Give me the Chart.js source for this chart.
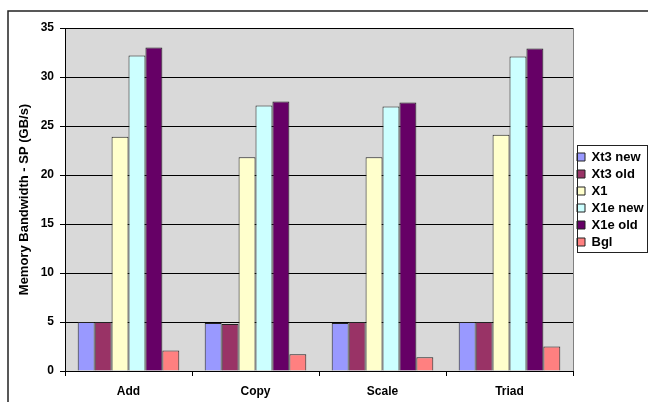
<!DOCTYPE html>
<html>
<head>
<meta charset="utf-8">
<script src="https://cdn.jsdelivr.net/npm/chart.js@4.4.0/dist/chart.umd.min.js"></script>
<style>
  html, body { margin: 0; padding: 0; background: #fff; }
  #wrap { width: 648px; height: 402px; position: relative; }
</style>
</head>
<body>
<div id="wrap"><canvas id="bwChart"></canvas></div>
<script>
// kernels on the x axis
const categories = ['Add', 'Copy', 'Scale', 'Triad'];

// SP memory bandwidth (GB/s), one array per machine
const xt3New = [5.0, 4.9, 4.9, 5.0];
const xt3Old = [5.0, 4.8, 5.0, 5.0];
const x1 = [23.9, 21.8, 21.8, 24.1];
const x1eNew = [32.2, 27.1, 27.0, 32.1];
const x1eOld = [33.0, 27.5, 27.4, 32.9];
const bgl = [2.1, 1.7, 1.4, 2.5];

const yTicks = [0, 5, 10, 15, 20, 25, 30, 35];

const FONT = 'Arial, "Liberation Sans", sans-serif';

// grey plot area + outer frame + box round the legend
const decor = {
  id: 'decor',
  beforeDraw(chart) {
    const { ctx, chartArea: a } = chart;
    ctx.save();
    ctx.fillStyle = '#d9d9d9';
    ctx.fillRect(a.left, a.top, a.right - a.left, a.bottom - a.top);
    ctx.strokeStyle = '#808080';
    ctx.lineWidth = 1;
    ctx.strokeRect(a.left + 0.5, a.top + 0.5, a.right - a.left, a.bottom - a.top);
    // outer frame
    ctx.strokeStyle = '#222';
    ctx.lineWidth = 1.5;
    ctx.beginPath();
    ctx.moveTo(648, 11);
    ctx.lineTo(8, 11);
    ctx.lineTo(8, 402);
    ctx.stroke();
    ctx.restore();
  },
  afterDraw(chart) {
    const boxes = chart.legend && chart.legend.legendHitBoxes;
    if (!boxes || !boxes.length) return;
    const { ctx } = chart;
    const first = boxes[0], last = boxes[boxes.length - 1];
    ctx.save();
    ctx.strokeStyle = '#222';
    ctx.lineWidth = 1;
    ctx.strokeRect(577.5, Math.round(first.top) - 5.5, 70, Math.round(last.top + last.height - first.top) + 9);
    ctx.restore();
  }
};

const mk = (label, data, color) => ({
  label, data,
  backgroundColor: color,
  borderColor: '#222',
  borderWidth: 1,
  categoryPercentage: 0.8,
  barPercentage: 1.0
});

new Chart(document.getElementById('bwChart'), {
  type: 'bar',
  data: {
    labels: categories,
    datasets: [
      mk('Xt3 new', xt3New, '#9999ff'),
      mk('Xt3 old', xt3Old, '#993366'),
      mk('X1', x1, '#ffffcc'),
      mk('X1e new', x1eNew, '#ccffff'),
      mk('X1e old', x1eOld, '#660066'),
      mk('Bgl', bgl, '#ff8080')
    ]
  },
  options: {
    responsive: true,
    maintainAspectRatio: false,
    animation: false,
    layout: { padding: { left: 17, top: 28, right: 0, bottom: 0 } },
    plugins: {
      legend: {
        position: 'right',
        fullSize: false,
        maxWidth: 75,
        labels: {
          boxWidth: 8,
          boxHeight: 8,
          padding: 4,
          color: '#000',
          font: { family: FONT, size: 13, weight: 'bold' }
        }
      },
      tooltip: { enabled: false }
    },
    scales: {
      x: {
        grid: {
          offset: true,
          drawOnChartArea: false,
          color: '#000',
          tickLength: 5
        },
        border: { color: '#000' },
        ticks: {
          color: '#000',
          padding: 8,
          font: { family: FONT, size: 12, weight: 'bold' }
        },
        afterFit(scale) { scale.height = 31; }
      },
      y: {
        min: 0,
        max: 35,
        afterBuildTicks(scale) { scale.ticks = yTicks.map(v => ({ value: v })); },
        grid: { color: '#000', tickLength: 5 },
        border: { color: '#000' },
        ticks: {
          color: '#000',
          padding: 6,
          font: { family: FONT, size: 12, weight: 'bold' }
        },
        title: {
          display: true,
          text: 'Memory Bandwidth - SP (GB/s)',
          color: '#000',
          font: { family: FONT, size: 13, weight: 'bold' },
          padding: { top: 0, bottom: 6 }
        },
        afterFit(scale) { scale.width = 48; }
      }
    }
  },
  plugins: [decor]
});
</script>
</body>
</html>
